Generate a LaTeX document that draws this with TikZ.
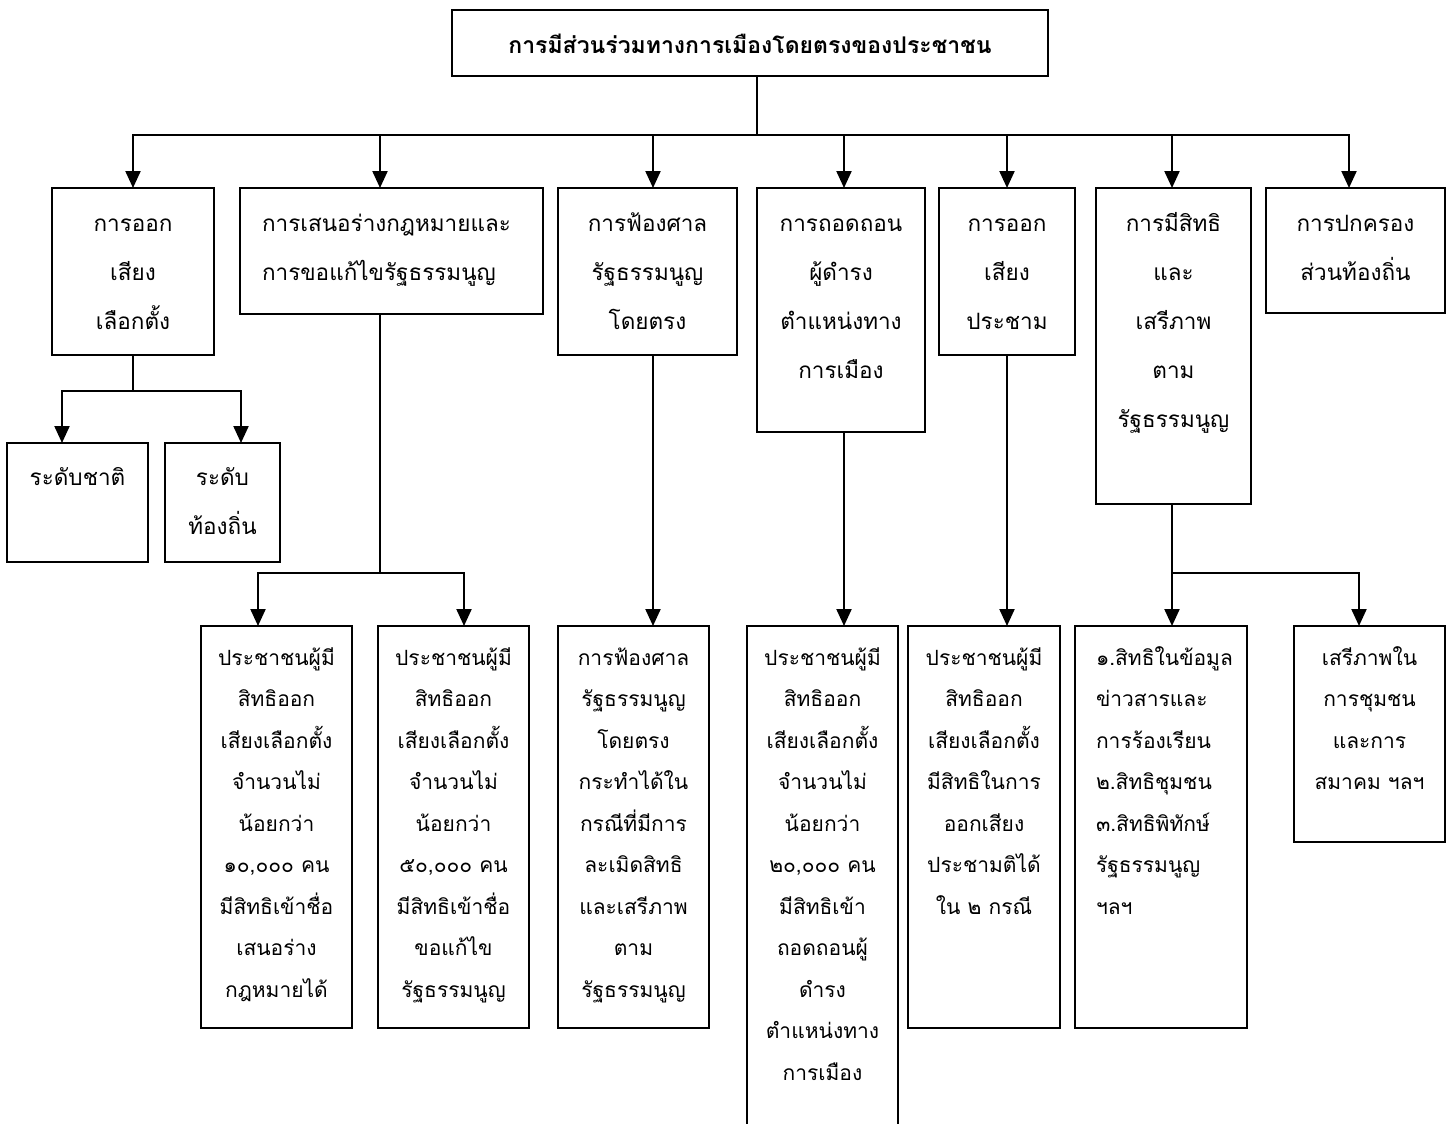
\documentclass[tikz,border=0pt]{standalone}
\usepackage{fontspec}
\newfontfamily\thai[Script=Thai]{Loma}
\usetikzlibrary{arrows.meta}
\tikzset{
  bx/.style={draw=black, line width=2.2pt, fill=white, inner sep=0pt, outer sep=0pt},
  tx/.style={inner sep=0pt, outer sep=0pt, font=\thai\fontsize{22.5}{49}\selectfont},
  txs/.style={inner sep=0pt, outer sep=0pt, font=\thai\fontsize{21}{41.5}\selectfont},
  ln/.style={line width=2.2pt, line cap=rect},
  arr/.style={line width=2.2pt, -{Triangle[length=17pt,width=15pt]}},
}
\newcommand\mkbox[5]{\node[bx, minimum width={(#4-#2)*1pt}, minimum height={(#5-#3)*1pt}, anchor=north west] (#1) at (#2,#3) {};}
\begin{document}
\begin{tikzpicture}[x=1pt,y=-1pt]
\useasboundingbox[fill=white] (0,0) rectangle (1456,1124);
% boxes
\mkbox{top}{452}{10}{1048}{76}
\mkbox{b1}{52}{188}{214}{355}
\mkbox{b2}{240}{188}{543}{314}
\mkbox{b3}{558}{188}{737}{355}
\mkbox{b4}{757}{188}{925}{432}
\mkbox{b5}{939}{188}{1075}{355}
\mkbox{b6}{1096}{188}{1251}{504}
\mkbox{b7}{1266}{188}{1445}{313}
\mkbox{c1a}{7}{443}{148}{562}
\mkbox{c1b}{165}{443}{280}{562}
\mkbox{c2a}{201}{626}{352}{1028}
\mkbox{c2b}{378}{626}{529}{1028}
\mkbox{c3}{558}{626}{709}{1028}
\mkbox{c4}{747}{626}{898}{1150}
\mkbox{c5}{908}{626}{1060}{1028}
\mkbox{c6a}{1075}{626}{1247}{1028}
\mkbox{c6b}{1294}{626}{1445}{842}
% texts (anchor = baseline of the last line)
\node[tx, anchor=base, font=\thai\bfseries\fontsize{23}{49}\selectfont] (ttop) at (750,53) {การมีส่วนร่วมทางการเมืองโดยตรงของประชาชน};
\node[tx, anchor=base, align=center] (t1) at (133,329) {การออก\\เสียง\\เลือกตั้ง};
\node[tx, anchor=base west, align=left] (t2) at (262,280) {การเสนอร่างกฎหมายและ\\การขอแก้ไขรัฐธรรมนูญ};
\node[tx, anchor=base, align=center] (t3) at (647.5,329) {การฟ้องศาล\\รัฐธรรมนูญ\\โดยตรง};
\node[tx, anchor=base, align=center] (t4) at (841,378) {การถอดถอน\\ผู้ดำรง\\ตำแหน่งทาง\\การเมือง};
\node[tx, anchor=base, align=center] (t5) at (1007,329) {การออก\\เสียง\\ประชาม};
\node[tx, anchor=base, align=center] (t6) at (1173.5,427) {การมีสิทธิ\\และ\\เสรีภาพ\\ตาม\\รัฐธรรมนูญ};
\node[tx, anchor=base, align=center] (t7) at (1355.5,280) {การปกครอง\\ส่วนท้องถิ่น};
\node[tx, anchor=base, align=center] (t1a) at (77.5,485) {ระดับชาติ};
\node[tx, anchor=base, align=center] (t1b) at (222.5,534) {ระดับ\\ท้องถิ่น};
\node[txs, anchor=base, align=center] (t2a) at (276.5,997) {ประชาชนผู้มี\\สิทธิออก\\เสียงเลือกตั้ง\\จำนวนไม่\\น้อยกว่า\\๑๐,๐๐๐ คน\\มีสิทธิเข้าชื่อ\\เสนอร่าง\\กฎหมายได้};
\node[txs, anchor=base, align=center] (t2b) at (453.5,997) {ประชาชนผู้มี\\สิทธิออก\\เสียงเลือกตั้ง\\จำนวนไม่\\น้อยกว่า\\๕๐,๐๐๐ คน\\มีสิทธิเข้าชื่อ\\ขอแก้ไข\\รัฐธรรมนูญ};
\node[txs, anchor=base, align=center] (t3a) at (633.5,997) {การฟ้องศาล\\รัฐธรรมนูญ\\โดยตรง\\กระทำได้ใน\\กรณีที่มีการ\\ละเมิดสิทธิ\\และเสรีภาพ\\ตาม\\รัฐธรรมนูญ};
\node[txs, anchor=base, align=center] (t4a) at (822.5,1080) {ประชาชนผู้มี\\สิทธิออก\\เสียงเลือกตั้ง\\จำนวนไม่\\น้อยกว่า\\๒๐,๐๐๐ คน\\มีสิทธิเข้า\\ถอดถอนผู้\\ดำรง\\ตำแหน่งทาง\\การเมือง};
\node[txs, anchor=base, align=center] (t5a) at (984,914) {ประชาชนผู้มี\\สิทธิออก\\เสียงเลือกตั้ง\\มีสิทธิในการ\\ออกเสียง\\ประชามติได้\\ใน ๒ กรณี};
\node[txs, anchor=base west, align=left] (t6a) at (1096,914) {๑.สิทธิในข้อมูล\\ข่าวสารและ\\การร้องเรียน\\๒.สิทธิชุมชน\\๓.สิทธิพิทักษ์\\รัฐธรรมนูญ\\ฯลฯ};
\node[txs, anchor=base, align=center] (t6b) at (1369.5,789.5) {เสรีภาพใน\\การชุมชน\\และการ\\สมาคม ฯลฯ};
% connectors
\coordinate (bus) at (757,135);
\coordinate (busL) at (133,135);
\coordinate (busR) at (1349,135);
\draw[ln] ([xshift=7pt]top.south) -- (bus);
\draw[ln] (busL) -- (busR);
\draw[arr] (busL) -- (b1.north);
\draw[arr] (bus -| {380,0}) -- ([xshift=-11.5pt]b2.north);
\draw[arr] (bus -| {653,0}) -- ([xshift=5.5pt]b3.north);
\draw[arr] (bus -| {844,0}) -- ([xshift=3pt]b4.north);
\draw[arr] (bus -| {1007,0}) -- (b5.north);
\draw[arr] (bus -| {1172,0}) -- ([xshift=-1.5pt]b6.north);
\draw[arr] (busR) -- ([xshift=-6.5pt]b7.north);
% level 1 -> level 2
\coordinate (h1) at (133,391);
\coordinate (h1L) at (62,391);
\coordinate (h1R) at (241,391);
\draw[ln] (b1.south) -- (h1);
\draw[ln] (h1L) -- (h1R);
\draw[arr] (h1L) -- ([xshift=-15.5pt]c1a.north);
\draw[arr] (h1R) -- ([xshift=18.5pt]c1b.north);
\coordinate (h2) at (380,573);
\coordinate (h2L) at (258,573);
\coordinate (h2R) at (464,573);
\draw[ln] ([xshift=-11.5pt]b2.south) -- (h2);
\draw[ln] (h2L) -- (h2R);
\draw[arr] (h2L) -- ([xshift=-18.5pt]c2a.north);
\draw[arr] (h2R) -- ([xshift=10.5pt]c2b.north);
\draw[arr] ([xshift=5.5pt]b3.south) -- ([xshift=19.5pt]c3.north);
\draw[arr] ([xshift=3pt]b4.south) -- ([xshift=21.5pt]c4.north);
\draw[arr] (b5.south) -- ([xshift=23pt]c5.north);
\coordinate (h6) at (1172,573);
\coordinate (h6R) at (1359,573);
\draw[ln] ([xshift=-1.5pt]b6.south) -- (h6);
\draw[ln] (h6) -- (h6R);
\draw[arr] (h6) -- ([xshift=11pt]c6a.north);
\draw[arr] (h6R) -- ([xshift=-10.5pt]c6b.north);
\end{tikzpicture}
\end{document}
